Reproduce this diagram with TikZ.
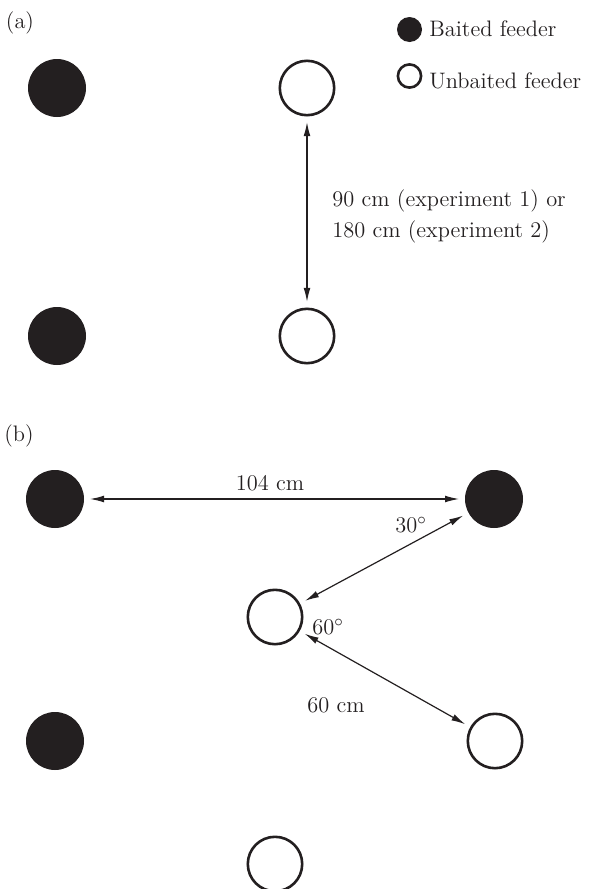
\documentclass[tikz,border=0pt]{standalone}
\usepackage{tikz}
\usetikzlibrary{arrows.meta,positioning}
\definecolor{feederInk}{HTML}{231F20}

\begin{document}
\begin{tikzpicture}[
        x=0.5pt, y=-0.5pt,
        baited/.style={
            circle,
            draw=none,
            fill=feederInk,
            minimum size=29pt,
            inner sep=0pt
        },
        unbaited/.style={
            circle,
            draw=feederInk,
            line width=1.3pt,
            fill=white,
            minimum size=27.2pt,
            inner sep=0pt
        },
        keybaited/.style={
            baited,
            minimum size=12.5pt
        },
        keyunbaited/.style={
            unbaited,
            minimum size=11.6pt
        },
        dist/.style={
            {Latex[length=7pt,width=3.4pt]}-{Latex[length=7pt,width=3.4pt]},
            draw=feederInk,
            line width=0.6pt,
            shorten <=2.8pt,
            shorten >=2.8pt
        },
        note/.style={
            font=\fontsize{11.2}{13.4}\selectfont,
            text=feederInk,
            inner sep=0pt,
            anchor=base west
        },
        panel/.style={
            font=\fontsize{11.2}{13.4}\selectfont,
            text=feederInk,
            inner sep=0pt
        }
    ]

    \useasboundingbox (0,0) rectangle (590,889);

    % (a)
    \node[panel] (tagA) at (20,23) {(a)};

    \node[baited]   (a1) at (57,88)  {};
    \node[unbaited] (a2) at (307,88) {};
    \node[baited]   (a3) at (57,336) {};
    \node[unbaited] (a4) at (307,336) {};

    \draw[dist] (a2) -- (a4);
    \node[note] (gapOne) at (332,206)   {90 cm (experiment 1) or};
    \node[note] (gapTwo) at (332,237.5) {180 cm (experiment 2)};

    \node[keybaited]   (keyB) at (409.5,29.5) {};
    \node[note]        (keyBtext) at (429,36.5) {Baited feeder};
    \node[keyunbaited] (keyU) at (409.5,76) {};
    \node[note]        (keyUtext) at (429,88) {Unbaited feeder};

    % (b)
    \node[panel] (tagB) at (19,436) {(b)};

    \node[baited]   (b1) at (55,499)  {};
    \node[baited]   (b2) at (494,499) {};
    \node[unbaited] (b3) at (275,617) {};
    \node[baited]   (b4) at (55,741)  {};
    \node[unbaited] (b5) at (495,741) {};
    \node[unbaited] (b6) at (275,864) {};

    \draw[dist] (b1) -- (b2);
    \draw[dist] (b2) -- (b3);
    \draw[dist] (b3) -- (b5);

    \node[note, anchor=base] (wide) at (270,490) {104 cm};
    \node[note] (angOne) at (395,532) {30$^\circ$};
    \node[note] (angTwo) at (312,634) {60$^\circ$};
    \node[note] (short)  at (307,712) {60 cm};

\end{tikzpicture}
\end{document}
